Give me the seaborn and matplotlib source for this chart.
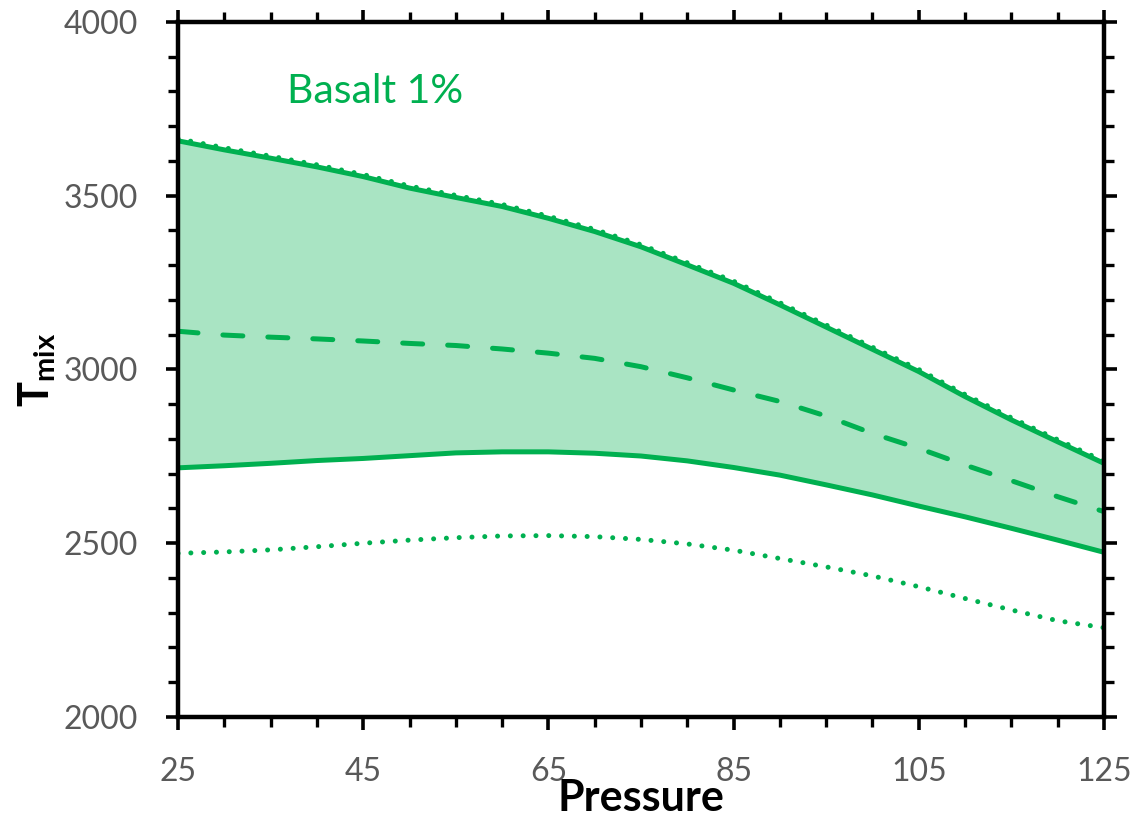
import matplotlib
matplotlib.use("Agg")
import matplotlib.pyplot as plt
from matplotlib.ticker import MultipleLocator
import seaborn as sns

# Pressure grid and mixing temperatures for each bound
pressure = [25, 30, 35, 40, 45, 50, 55, 60, 65, 70, 75,
            80, 85, 90, 95, 100, 105, 110, 115, 120, 125]
t_upper = [3658, 3632, 3608, 3583, 3555, 3522, 3495, 3469, 3435, 3397, 3353,
           3301, 3248, 3186, 3122, 3058, 2994, 2922, 2855, 2792, 2730]
t_upper_dotted = [3664, 3638, 3614, 3589, 3561, 3528, 3501, 3475, 3441, 3403, 3359,
                  3307, 3254, 3192, 3128, 3064, 3000, 2928, 2861, 2798, 2736]
t_mid = [3110, 3099, 3093, 3088, 3082, 3075, 3069, 3059, 3047, 3032, 3008,
         2976, 2941, 2908, 2866, 2816, 2773, 2725, 2680, 2634, 2591]
t_lower = [2717, 2723, 2730, 2738, 2744, 2752, 2760, 2763, 2763, 2759, 2751,
           2737, 2718, 2696, 2668, 2639, 2607, 2576, 2543, 2509, 2474]
t_lower_dotted = [2471, 2475, 2481, 2490, 2500, 2509, 2516, 2521, 2522, 2519, 2511,
                  2498, 2480, 2456, 2432, 2406, 2375, 2341, 2308, 2277, 2257]

x_ticks = [25, 45, 65, 85, 105, 125]
y_ticks = [2000, 2500, 3000, 3500, 4000]
panel_label = "Basalt 1%"

GREEN = "#00B050"
FILL = "#A9E4C3"
GRAY = "#595959"

sns.set_theme(style="ticks")
plt.rcParams["font.family"] = ["Lato", "DejaVu Sans"]
plt.rcParams["mathtext.fontset"] = "custom"
plt.rcParams["mathtext.rm"] = "Lato"
plt.rcParams["mathtext.bf"] = "Lato:bold"
plt.rcParams["mathtext.it"] = "Lato:italic"

fig = plt.figure(figsize=(11.42, 8.23), dpi=100)
ax = fig.add_axes([0.1559, 0.1288, 0.8108, 0.8445])

# shaded band between the two solid bounds
ax.fill_between(pressure, t_lower, t_upper, color=FILL, lw=0, zorder=1)

lw = 3.6
sns.lineplot(x=pressure, y=t_upper, ax=ax, color=GREEN, lw=lw, zorder=3)
sns.lineplot(x=pressure, y=t_lower, ax=ax, color=GREEN, lw=lw, zorder=3)

sns.lineplot(x=pressure, y=t_mid, ax=ax, color=GREEN, lw=lw, zorder=3)
ax.lines[-1].set_dashes([4, 5])
ax.lines[-1].set_dash_capstyle("round")

for series in (t_upper_dotted, t_lower_dotted):
    sns.lineplot(x=pressure, y=series, ax=ax, color=GREEN, lw=lw, zorder=3)
    ax.lines[-1].set_dashes([0.01, 2.55])
    ax.lines[-1].set_dash_capstyle("round")

for line in ax.lines:
    line.set_solid_joinstyle("round")
    line.set_dash_joinstyle("round")

ax.set_xlim(25, 125)
ax.set_ylim(2000, 4000)
ax.set_xticks(x_ticks)
ax.set_yticks(y_ticks)
ax.xaxis.set_minor_locator(MultipleLocator(5))
ax.yaxis.set_minor_locator(MultipleLocator(100))

for side in ("left", "right", "top", "bottom"):
    ax.spines[side].set_visible(True)
    ax.spines[side].set_color("black")
    ax.spines[side].set_linewidth(3.2)
    ax.spines[side].set_zorder(4)

ax.tick_params(which="both", direction="out", top=True, right=True,
               labeltop=False, labelright=False, color="black")
ax.tick_params(which="major", length=9, width=2.6, labelsize=23,
               labelcolor=GRAY, pad=20)
ax.tick_params(which="minor", length=7, width=2.4)

ax.set_xlabel("Pressure", fontsize=31, fontweight="bold", color="black",
              labelpad=-7)
ax.set_ylabel(r"$\mathbf{T}_{\mathbf{mix}}$", fontsize=30, color="black",
              labelpad=4)

ax.text(0.118, 0.883, panel_label, transform=ax.transAxes, fontsize=29.5,
        color=GREEN, ha="left", va="baseline")

ax.set_facecolor("white")
fig.patch.set_facecolor("white")
fig.savefig("out.png", dpi=100)
